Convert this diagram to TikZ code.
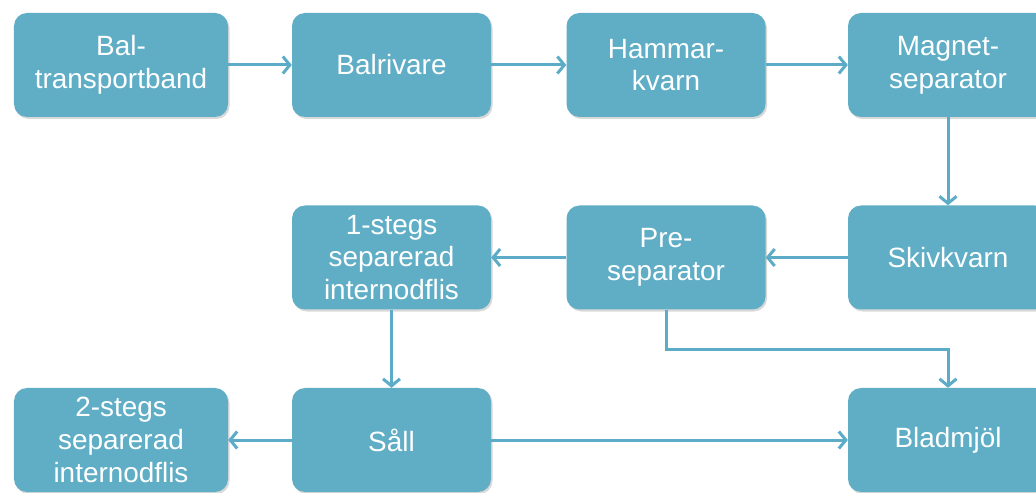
\documentclass[tikz,border=0pt]{standalone}
\usepackage{fontspec}
\setmainfont{Liberation Sans}
\usetikzlibrary{arrows.meta,shadows}
\definecolor{boxblue}{RGB}{95,174,198}
\definecolor{lineblue}{RGB}{92,172,199}
\begin{document}
\begin{tikzpicture}[x=1bp,y=-1bp,
 box/.style={draw=none,fill=boxblue,rounded corners=13bp,minimum width=199bp,minimum height=104bp,inner sep=0pt,align=center,text=white,font=\fontsize{28}{33}\selectfont,drop shadow={shadow xshift=1.5bp,shadow yshift=-2bp,opacity=.3}},
 flow/.style={draw=lineblue,line width=3bp,-{Straight Barb[length=7bp,width=17bp]}}]
 \useasboundingbox (0,0) rectangle (1036,493);
 \node[box,minimum width=214bp] (bal) at (121,65) {Bal-\\transportband};
 \node[box] (rivare) at (391.5,65) {Balrivare};
 \node[box] (hammar) at (666,65) {Hammar-\\kvarn};
 \node[box,minimum width=200bp] (magnet) at (948,65) {Magnet-\\separator};
 \node[box,minimum width=200bp] (skiv) at (948,257.5) {Skivkvarn};
 \node[box] (pre) at (666,257.5) {Pre-\\separator};
 \node[box] (steg1) at (391.5,257.5) {1-stegs\\separerad\\internodflis};
 \node[box] (sall) at (391.5,440) {Såll};
 \node[box,minimum width=214bp] (steg2) at (121,440) {2-stegs\\separerad\\internodflis};
 \node[box,minimum width=200bp] (blad) at (948,440) {Bladmjöl};
 \coordinate (knee) at (666,350);
 \draw[flow] (bal) -- (rivare);
 \draw[flow] (rivare) -- (hammar);
 \draw[flow] (hammar) -- (magnet);
 \draw[flow] (magnet) -- (skiv);
 \draw[flow] (skiv) -- (pre);
 \draw[flow] (pre) -- (steg1);
 \draw[flow] (steg1) -- (sall);
 \draw[flow] (pre.south) -- (knee) -| (blad.north);
 \draw[flow] (sall) -- (blad);
 \draw[flow] (sall) -- (steg2);
\end{tikzpicture}
\end{document}
